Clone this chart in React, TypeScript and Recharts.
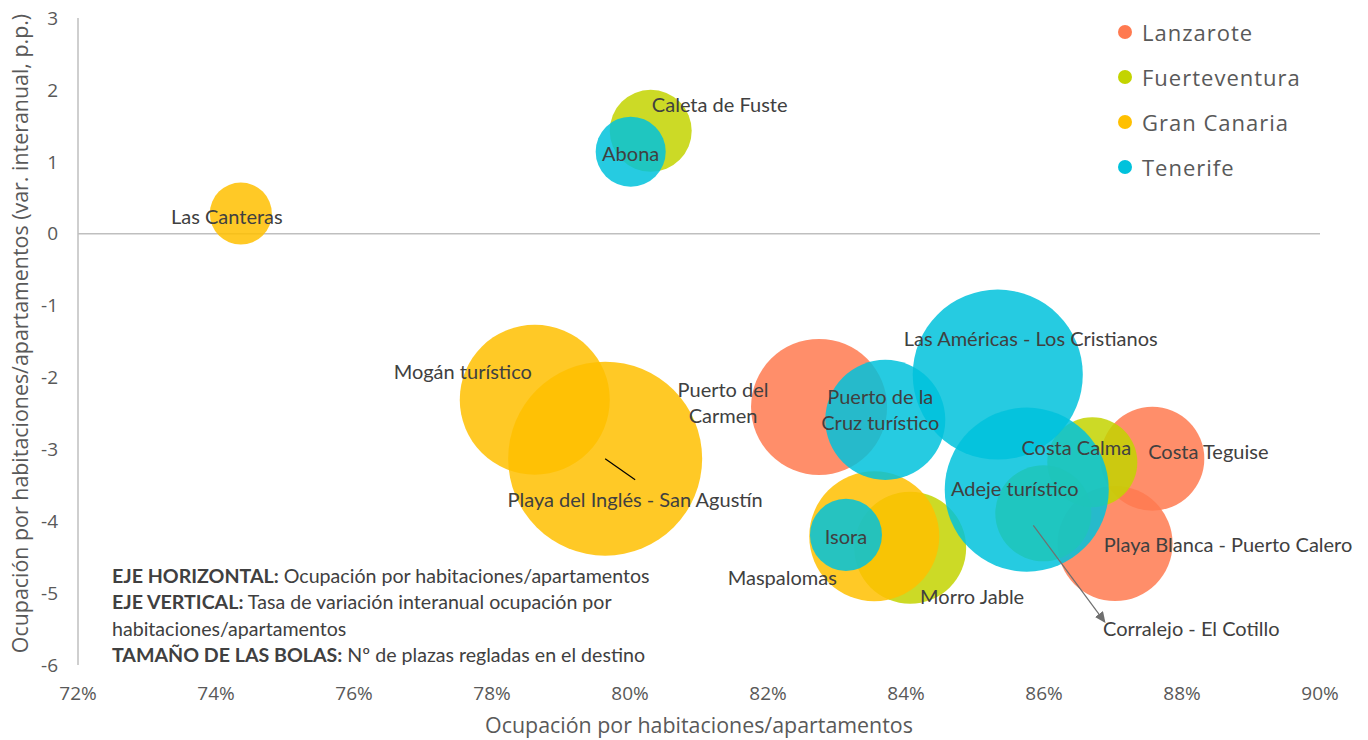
import React from 'react';
import {
  ScatterChart,
  Scatter,
  XAxis,
  YAxis,
  ZAxis,
  ReferenceLine,
} from 'recharts';

// Destinos por isla: ocupación (%), variación interanual (p.p.), plazas regladas
const lanzarote = [
  { destino: 'Puerto del Carmen', ocupacion: 82.74, variacion: -2.41, plazas: 27050 },
  { destino: 'Costa Teguise', ocupacion: 87.57, variacion: -3.13, plazas: 15800 },
  { destino: 'Playa Blanca - Puerto Calero', ocupacion: 87.03, variacion: -4.31, plazas: 19340 },
];

const fuerteventura = [
  { destino: 'Caleta de Fuste', ocupacion: 80.3, variacion: 1.43, plazas: 9830 },
  { destino: 'Costa Calma', ocupacion: 86.7, variacion: -3.18, plazas: 11850 },
  { destino: 'Corralejo - El Cotillo', ocupacion: 85.99, variacion: -3.89, plazas: 13480 },
  { destino: 'Morro Jable', ocupacion: 84.06, variacion: -4.37, plazas: 18350 },
];

const granCanaria = [
  { destino: 'Las Canteras', ocupacion: 74.36, variacion: 0.28, plazas: 5620 },
  { destino: 'Mogán turístico', ocupacion: 78.62, variacion: -2.31, plazas: 32900 },
  { destino: 'Playa del Inglés - San Agustín', ocupacion: 79.64, variacion: -3.13, plazas: 55000 },
  { destino: 'Maspalomas', ocupacion: 83.54, variacion: -4.21, plazas: 24700 },
];

const tenerife = [
  { destino: 'Abona', ocupacion: 80.01, variacion: 1.14, plazas: 7170 },
  { destino: 'Puerto de la Cruz turístico', ocupacion: 83.7, variacion: -2.59, plazas: 21060 },
  { destino: 'Las Américas - Los Cristianos', ocupacion: 85.33, variacion: -1.96, plazas: 42270 },
  { destino: 'Adeje turístico', ocupacion: 85.75, variacion: -3.56, plazas: 39340 },
  { destino: 'Isora', ocupacion: 83.13, variacion: -4.19, plazas: 7580 },
];

const xTicks = [72, 74, 76, 78, 80, 82, 84, 86, 88, 90];
const yTicks = [-6, -5, -4, -3, -2, -1, 0, 1, 2, 3];

const ISLANDS = [
  { name: 'Lanzarote', color: '#FF7A50', data: lanzarote },
  { name: 'Fuerteventura', color: '#C3D400', data: fuerteventura },
  { name: 'Gran Canaria', color: '#FFC000', data: granCanaria },
  { name: 'Tenerife', color: '#00C2DC', data: tenerife },
];

const allPoints = [...lanzarote, ...fuerteventura, ...granCanaria, ...tenerife];

// label placement relative to bubble centre (px)
const LABEL_SPOTS: Record<string, any> = {
  'Puerto del Carmen': { dx: -96, dy: -5, lines: ['Puerto del', 'Carmen'] },
  'Costa Teguise': { dx: 56, dy: -8 },
  'Playa Blanca - Puerto Calero': { dx: 113, dy: 0 },
  'Caleta de Fuste': { dx: 69, dy: -27 },
  'Costa Calma': { dx: -16, dy: -15 },
  'Corralejo - El Cotillo': { dx: 148, dy: 115, arrow: [-10, 12, 61, 108] },
  'Morro Jable': { dx: 62, dy: 48 },
  'Las Canteras': { dx: -14, dy: 2 },
  'Mogán turístico': { dx: -72, dy: -29 },
  'Playa del Inglés - San Agustín': { dx: 30, dy: 40, leader: [0, 0, 30, 21] },
  Maspalomas: { dx: -92, dy: 41 },
  Abona: { dx: 0, dy: 1 },
  'Puerto de la Cruz turístico': { dx: -5, dy: -11, lines: ['Puerto de la', 'Cruz turístico'] },
  'Las Américas - Los Cristianos': { dx: 33, dy: -37 },
  'Adeje turístico': { dx: -12, dy: -2 },
  Isora: { dx: 0, dy: 1 },
};

const MAX_R = 97;
const TEXT = '#404040';
const AXIS_TEXT = '#595959';
const LABEL_FONT = 'Lato, "Open Sans", sans-serif';
const AXIS_FONT = '"Open Sans", sans-serif';

const Bubble = (props: any) => {
  const { cx, cy, width, color } = props;
  if (cx == null || cy == null) return null;
  return <circle cx={cx} cy={cy} r={width / 2} fill={color} fillOpacity={0.85} />;
};

const LabelMark = (props: any) => {
  const { cx, cy, payload } = props;
  const spot = LABEL_SPOTS[payload.destino] || { dx: 0, dy: 0 };
  const lines: string[] = spot.lines || [payload.destino];
  const lh = 26;
  const x = cx + spot.dx;
  const y0 = cy + spot.dy - ((lines.length - 1) * lh) / 2;
  return (
    <g>
      {spot.leader && (
        <line
          x1={cx + spot.leader[0]}
          y1={cy + spot.leader[1]}
          x2={cx + spot.leader[2]}
          y2={cy + spot.leader[3]}
          stroke="#000"
          strokeWidth={1.2}
        />
      )}
      {spot.arrow && (
        <g>
          <defs>
            <marker id="arrowHead" markerWidth="11" markerHeight="10" refX="9" refY="5" orient="auto" markerUnits="userSpaceOnUse">
              <path d="M0,0 L11,5 L0,10 Z" fill="#6f6f6f" />
            </marker>
          </defs>
          <line
            x1={cx + spot.arrow[0]}
            y1={cy + spot.arrow[1]}
            x2={cx + spot.arrow[2]}
            y2={cy + spot.arrow[3]}
            stroke="#6f6f6f"
            strokeWidth={1.2}
            markerEnd="url(#arrowHead)"
          />
        </g>
      )}
      {lines.map((l, i) => (
        <text
          key={i}
          x={x}
          y={y0 + i * lh}
          textAnchor="middle"
          dominantBaseline="central"
          fontFamily={LABEL_FONT}
          fontSize={20}
          fill={TEXT}
        >
          {l}
        </text>
      ))}
    </g>
  );
};

const YTitle = (props: any) => {
  const { viewBox } = props;
  const cy = viewBox.y + viewBox.height / 2 - 8;
  return (
    <text
      x={19}
      y={cy}
      transform={`rotate(-90, 19, ${cy})`}
      textAnchor="middle"
      dominantBaseline="central"
      fontFamily={AXIS_FONT}
      fontSize={21.4}
      fill={AXIS_TEXT}
    >
      Ocupación por habitaciones/apartamentos (var. interanual, p.p.)
    </text>
  );
};

export default function App() {
  return (
    <div
      style={{
        position: 'absolute',
        left: 0,
        top: 0,
        width: 1368,
        height: 740,
        background: '#fff',
        overflow: 'hidden',
      }}
    >
      <ScatterChart
        width={1368}
        height={740}
        margin={{ top: 18, right: 48, bottom: 35, left: 0 }}
      >
        <XAxis
          type="number"
          dataKey="ocupacion"
          domain={[72, 90]}
          ticks={xTicks}
          tickFormatter={(v) => `${v}%`}
          axisLine={false}
          tickLine={false}
          tickSize={0}
          tickMargin={22}
          height={40}
          tick={{ fill: AXIS_TEXT, fontSize: 19, fontFamily: AXIS_FONT }}
          label={{
            value: 'Ocupación por habitaciones/apartamentos',
            position: 'bottom',
            offset: 13,
            fill: AXIS_TEXT,
            fontSize: 21.4,
            fontFamily: AXIS_FONT,
          }}
        />
        <YAxis
          type="number"
          dataKey="variacion"
          domain={[-6, 3]}
          ticks={yTicks}
          width={78}
          axisLine={{ stroke: '#BFBFBF', strokeWidth: 1.5 }}
          tickLine={false}
          tickSize={0}
          tickMargin={20}
          tick={{ fill: AXIS_TEXT, fontSize: 19, fontFamily: AXIS_FONT }}
          label={<YTitle />}
        />
        <ZAxis
          type="number"
          dataKey="plazas"
          domain={[0, 55000]}
          range={[0, Math.PI * MAX_R * MAX_R]}
        />
        <ReferenceLine y={0} stroke="#BFBFBF" strokeWidth={1.5} />
        {ISLANDS.map((isl) => (
          <Scatter
            key={isl.name}
            name={isl.name}
            data={isl.data}
            isAnimationActive={false}
            shape={(p: any) => <Bubble {...p} color={isl.color} />}
          />
        ))}
        <Scatter
          name="labels"
          data={allPoints}
          legendType="none"
          isAnimationActive={false}
          shape={(p: any) => <LabelMark {...p} />}
        />
      </ScatterChart>

      <div
        style={{
          position: 'absolute',
          left: 1118,
          top: 9,
          fontFamily: AXIS_FONT,
          fontSize: 22,
          letterSpacing: 1,
          color: AXIS_TEXT,
        }}
      >
        {ISLANDS.map((isl) => (
          <div key={isl.name} style={{ display: 'flex', alignItems: 'center', height: 45 }}>
            <span
              style={{
                display: 'inline-block',
                width: 14,
                height: 14,
                borderRadius: 7,
                background: isl.color,
                marginRight: 10,
              }}
            />
            <span>{isl.name}</span>
          </div>
        ))}
      </div>

      <div
        style={{
          position: 'absolute',
          left: 112,
          top: 563,
          fontFamily: LABEL_FONT,
          fontSize: 19.6,
          lineHeight: '26.3px',
          color: TEXT,
          whiteSpace: 'nowrap',
        }}
      >
        <div>
          <b>EJE HORIZONTAL:</b> Ocupación por habitaciones/apartamentos
        </div>
        <div>
          <b>EJE VERTICAL:</b> Tasa de variación interanual ocupación por
        </div>
        <div>habitaciones/apartamentos</div>
        <div>
          <b>TAMAÑO DE LAS BOLAS:</b> Nº de plazas regladas en el destino
        </div>
      </div>
    </div>
  );
}
